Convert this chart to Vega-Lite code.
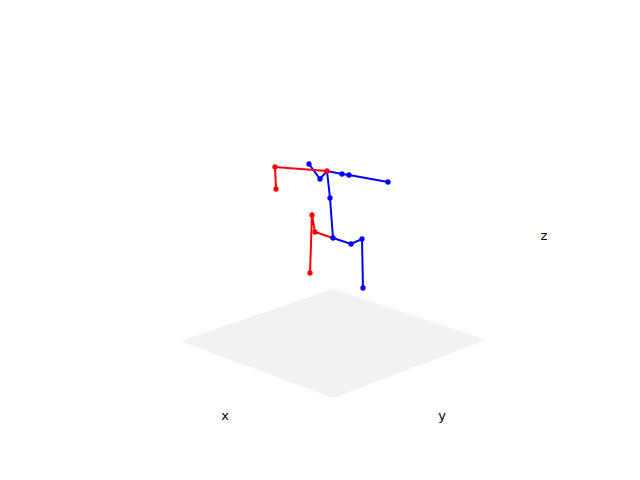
{
  "$schema": "https://vega.github.io/schema/vega-lite/v6.json",
  "width": 640,
  "height": 480,
  "autosize": {"type": "fit", "contains": "padding"},
  "padding": 0,
  "background": "white",
  "config": {"view": {"stroke": null}},
  "datasets": {
    "plane": [
      {"u": 180, "top": 341, "bottom": 341},
      {"u": 333.5, "top": 289, "bottom": 398},
      {"u": 486, "top": 340, "bottom": 340}
    ],
    "bones": [
      {"seg": "b1", "side": "left", "o": 1, "u": 309, "v": 164},
      {"seg": "b1", "side": "left", "o": 2, "u": 320, "v": 179},
      {"seg": "b1", "side": "left", "o": 3, "u": 327, "v": 171},
      {"seg": "b1", "side": "left", "o": 4, "u": 342, "v": 174},
      {"seg": "b1", "side": "left", "o": 5, "u": 349, "v": 175},
      {"seg": "b1", "side": "left", "o": 6, "u": 388, "v": 182},
      {"seg": "b2", "side": "left", "o": 1, "u": 327, "v": 171},
      {"seg": "b2", "side": "left", "o": 2, "u": 330, "v": 198},
      {"seg": "b2", "side": "left", "o": 3, "u": 333, "v": 238},
      {"seg": "b2", "side": "left", "o": 4, "u": 351, "v": 244},
      {"seg": "b2", "side": "left", "o": 5, "u": 362, "v": 239},
      {"seg": "b2", "side": "left", "o": 6, "u": 363, "v": 288},
      {"seg": "r1", "side": "right", "o": 1, "u": 276, "v": 189},
      {"seg": "r1", "side": "right", "o": 2, "u": 275, "v": 167},
      {"seg": "r1", "side": "right", "o": 3, "u": 327, "v": 171},
      {"seg": "r2", "side": "right", "o": 1, "u": 310, "v": 273},
      {"seg": "r2", "side": "right", "o": 2, "u": 312, "v": 215},
      {"seg": "r2", "side": "right", "o": 3, "u": 315, "v": 232},
      {"seg": "r2", "side": "right", "o": 4, "u": 333, "v": 238}
    ],
    "joints": [
      {"side": "left", "u": 309, "v": 164},
      {"side": "left", "u": 320, "v": 179},
      {"side": "left", "u": 342, "v": 174},
      {"side": "left", "u": 349, "v": 175},
      {"side": "left", "u": 388, "v": 182},
      {"side": "left", "u": 330, "v": 198},
      {"side": "left", "u": 333, "v": 238},
      {"side": "left", "u": 351, "v": 244},
      {"side": "left", "u": 362, "v": 239},
      {"side": "left", "u": 363, "v": 288},
      {"side": "right", "u": 276, "v": 189},
      {"side": "right", "u": 275, "v": 167},
      {"side": "right", "u": 327, "v": 171},
      {"side": "right", "u": 310, "v": 273},
      {"side": "right", "u": 312, "v": 215},
      {"side": "right", "u": 315, "v": 232}
    ],
    "labels": [
      {"t": "x", "u": 225, "v": 416},
      {"t": "y", "u": 442, "v": 416},
      {"t": "z", "u": 544, "v": 236}
    ]
  },
  "layer": [
    {
      "data": {"name": "plane"},
      "mark": {"type": "area", "color": "#f2f2f2", "opacity": 1, "interpolate": "linear"},
      "encoding": {
        "x": {"field": "u", "type": "quantitative", "scale": {"domain": [0, 640], "nice": false, "zero": false}, "axis": null},
        "y": {"field": "top", "type": "quantitative", "scale": {"domain": [0, 480], "reverse": true, "nice": false, "zero": false}, "axis": null},
        "y2": {"field": "bottom"}
      }
    },
    {
      "data": {"name": "bones"},
      "mark": {"type": "line", "strokeWidth": 2, "interpolate": "linear"},
      "encoding": {
        "x": {"field": "u", "type": "quantitative", "scale": {"domain": [0, 640], "nice": false, "zero": false}, "axis": null},
        "y": {"field": "v", "type": "quantitative", "scale": {"domain": [0, 480], "reverse": true, "nice": false, "zero": false}, "axis": null},
        "detail": {"field": "seg"},
        "order": {"field": "o"},
        "color": {"field": "side", "type": "nominal", "scale": {"domain": ["right", "left"], "range": ["#ff0000", "#0000ff"]}, "legend": null}
      }
    },
    {
      "data": {"name": "joints"},
      "mark": {"type": "circle", "size": 28, "opacity": 1},
      "encoding": {
        "x": {"field": "u", "type": "quantitative", "scale": {"domain": [0, 640], "nice": false, "zero": false}, "axis": null},
        "y": {"field": "v", "type": "quantitative", "scale": {"domain": [0, 480], "reverse": true, "nice": false, "zero": false}, "axis": null},
        "color": {"field": "side", "type": "nominal", "scale": {"domain": ["right", "left"], "range": ["#ff0000", "#0000ff"]}, "legend": null}
      }
    },
    {
      "data": {"name": "labels"},
      "mark": {"type": "text", "font": "DejaVu Sans", "fontSize": 13, "color": "black", "align": "center", "baseline": "middle"},
      "encoding": {
        "x": {"field": "u", "type": "quantitative", "scale": {"domain": [0, 640], "nice": false, "zero": false}, "axis": null},
        "y": {"field": "v", "type": "quantitative", "scale": {"domain": [0, 480], "reverse": true, "nice": false, "zero": false}, "axis": null},
        "text": {"field": "t"}
      }
    }
  ]
}
